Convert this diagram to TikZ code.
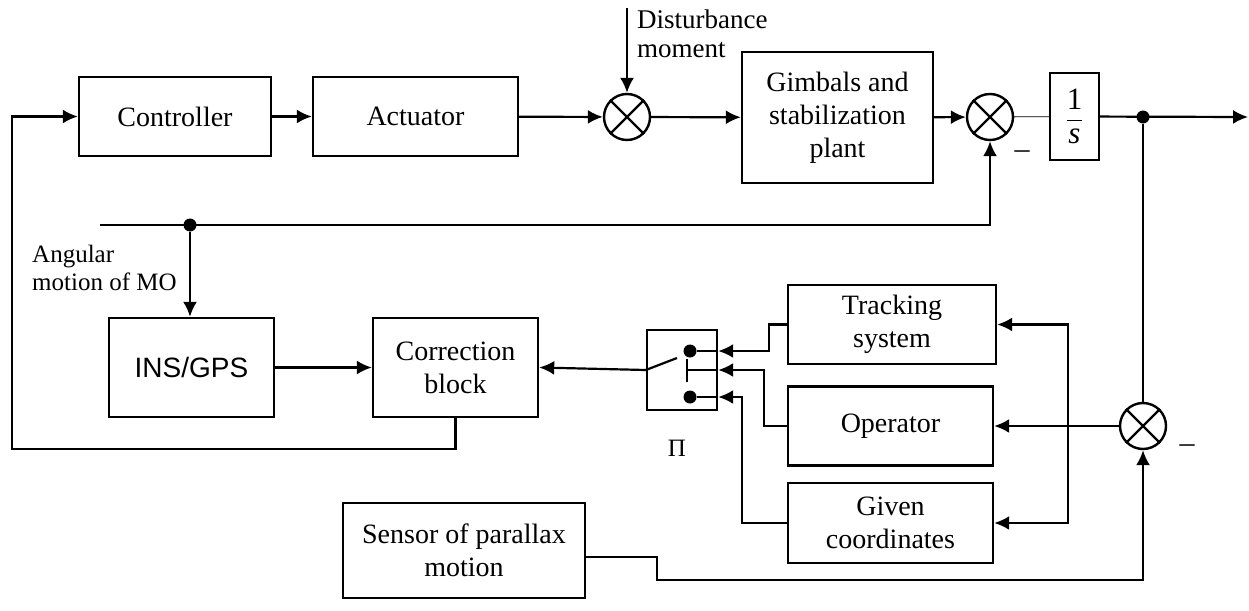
\documentclass[tikz,border=0pt]{standalone}
\usepackage{fontspec}
\setmainfont{Liberation Serif}
\setsansfont{Liberation Sans}
\usetikzlibrary{arrows.meta, calc, positioning}
\tikzset{
    blk/.style={rectangle, draw, line width=2.4pt, inner sep=2pt, align=center, font=\fontsize{28}{33}\selectfont},
    sumNode/.style={circle, draw, line width=2.4pt, minimum size=46pt, inner sep=0pt},
    jdot/.style={circle, fill=black, inner sep=0pt, minimum size=13pt},
    sig/.style={-{Latex[length=15pt,width=14pt]}, line width=2.2pt},
    wire/.style={line width=2.2pt},
    note/.style={font=\fontsize{25}{28}\selectfont, align=left, inner sep=0pt},
}
\newcommand{\drawBlock}[5]{
    \node[blk, minimum width=#3, minimum height=#4] (#1) at (#2) {#5};
}
\newcommand{\drawSum}[2]{
    % circle with a cross inside
    \node[sumNode] (#1) at (#2) {};
    \draw[line width=2.2pt] (#1.45) -- (#1.225) (#1.135) -- (#1.315);
}
\begin{document}
\begin{tikzpicture}[x=1pt, y=-1pt]
        \useasboundingbox (0,0) rectangle (1249,610);

        % forward path
        \drawBlock{ctrl}{175,116.5}{192pt}{79pt}{Controller}
        \drawBlock{act}{415.5,116.5}{205pt}{79pt}{Actuator}
        \drawSum{sA}{627,117}
        \drawBlock{gimb}{837.5,117.5}{191pt}{131pt}{Gimbals and\\stabilization\\plant}
        \drawSum{sB}{990,117}
        \drawBlock{integ}{1074.5,116.5}{49pt}{87pt}{\fontsize{31}{33}\selectfont$\displaystyle\frac{\hbox{1}}{\hbox{\itshape s}}$}
        \node[jdot] (oDot) at (1143,117) {};
        \coordinate (oEnd) at (1248,117);

        \draw[sig] (ctrl) -- (act);
        \draw[sig] (act) -- (sA);
        \draw[sig] (sA) -- (gimb);
        \draw[sig] (gimb) -- (sB);
        \draw[line width=0.8pt] (sB) -- (integ);
        \draw[sig] (integ) -- (oEnd);

        \coordinate (dTop) at (627,8);
        \draw[sig] (dTop) -- (sA);
        \node[note, font=\fontsize{27}{29}\selectfont, anchor=north west] (dLbl) at (637,10) {Disturbance\\moment};
        \node[note, font=\fontsize{30}{30}\selectfont] (mB) at (1022,155) {–};

        % angular motion of MO
        \coordinate (mIn) at (100,225);
        \node[jdot] (mDot) at (190,225) {};
        \draw[sig] (mIn) -| (sB.south);
        \node[note, anchor=north west] (mLbl) at (32,245) {Angular\\motion of MO};

        \drawBlock{ins}{191.5,367.5}{165pt}{99pt}{\sffamily INS/GPS}
        \drawBlock{corr}{455.5,367.5}{165pt}{99pt}{Correction\\block}
        \draw[sig] (mDot) -- (mDot |- ins.north);
        \draw[sig] (ins) -- (corr);
        \coordinate (loopL) at (12,449);
        \draw[sig] (corr.south) |- (loopL) |- (ctrl.west);

        % switch
        \node[draw, line width=2.4pt, minimum width=70pt, minimum height=80pt] (sw) at (682,370) {};
        \node[note] (swLbl) at (677,448) {Π};
        \node[jdot] (swA) at (690,351) {};
        \node[jdot] (swC) at (690,397) {};
        \draw[wire] (swA) -- (swA -| sw.east);
        \draw[wire] (swC) -- (swC -| sw.east);
        \draw[wire] (687,359) -- (687,382);
        \draw[wire] (687,370) -- (sw.east);
        \draw[wire] (sw.west) -- (677,358);
        \draw[sig] (sw.west) -- (corr.east);

        % target sources
        \drawBlock{track}{892,324.5}{208pt}{79pt}{Tracking\\system}
        \drawBlock{oper}{890.5,426}{205pt}{79pt}{Operator}
        \drawBlock{given}{890.5,523}{205pt}{80pt}{Given\\coordinates}
        \draw[sig] (track.west) -- ++(-18,0) |- (swA -| sw.east);
        \draw[sig] (oper.west) -- ++(-23,0) |- (sw.east);
        \draw[sig] (given.west) -- ++(-45,0) |- (swC -| sw.east);

        \drawSum{sC}{1143,426}
        \draw[wire] (oDot) -- (sC);
        \draw[sig] (sC) -- (oper);
        \coordinate (brX) at (1068,426);
        \draw[sig] (brX) |- (track.east);
        \draw[sig] (brX) |- (given.east);
        \node[note, font=\fontsize{30}{30}\selectfont] (mC) at (1187,449) {–};

        % parallax
        \drawBlock{sens}{464,550.5}{242pt}{95pt}{Sensor of parallax\\motion}
        \coordinate (pK) at (657,557);
        \draw[sig] (sens.east |- pK) -- (pK) -- (657,580) -| (sC.south);

    \end{tikzpicture}
\end{document}
